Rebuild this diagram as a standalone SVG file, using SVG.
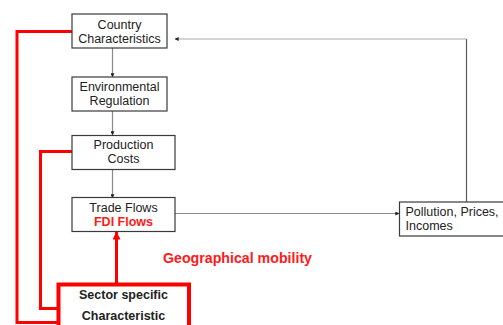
<svg xmlns="http://www.w3.org/2000/svg" width="503" height="325" viewBox="0 0 503 325">
  <style>
    .box { fill: #ffffff; stroke: #3a3a3a; stroke-width: 1.2; }
    .lbl { font-family: "Liberation Sans", Arial, sans-serif; font-size: 12.5px; fill: #222222; text-anchor: middle; }
    .lft { text-anchor: start; }
    .red { fill: #ff1a1a; font-weight: bold; }
    .bold { font-weight: bold; }
    .conn { fill: none; stroke: #8a8a8a; stroke-width: 1.2; }
    .redline { fill: none; stroke: #ff0000; stroke-width: 3; }
  </style>
  <defs>
    <marker id="arr" viewBox="0 0 6 6" refX="5.5" refY="3" markerWidth="4" markerHeight="4" orient="auto" markerUnits="userSpaceOnUse">
      <path d="M0,0 L6,3 L0,6 Z" fill="#222222"/>
    </marker>
    <marker id="arrRed" viewBox="0 0 8 8" refX="7.5" refY="4" markerWidth="8" markerHeight="8" orient="auto" markerUnits="userSpaceOnUse">
      <path d="M0,0 L8,4 L0,8 Z" fill="#ff0000"/>
    </marker>
  </defs>

  <!-- connectors -->
  <g id="connectors">
    <line class="conn" x1="112.5" y1="48" x2="112.5" y2="77" marker-end="url(#arr)"/>
    <line class="conn" x1="112.5" y1="111" x2="112.5" y2="135" marker-end="url(#arr)"/>
    <line class="conn" x1="112.5" y1="169" x2="112.5" y2="198" marker-end="url(#arr)"/>
    <line class="conn" x1="175" y1="213.5" x2="399" y2="213.5" marker-end="url(#arr)"/>
    <!-- feedback loop: darker upright, lighter top run -->
    <line class="conn" x1="466.5" y1="202" x2="466.5" y2="39" style="stroke:#5a5a5a"/>
    <line class="conn" x1="466.5" y1="39" x2="175" y2="39" style="stroke:#a8a8a8" marker-end="url(#arr)"/>
    <polyline class="redline" points="72,31.5 17,31.5 17,322.5 58,322.5"/>
    <polyline class="redline" points="72,151.5 40.5,151.5 40.5,308.5 58,308.5"/>
    <line class="redline" x1="116.5" y1="284" x2="116.5" y2="232" marker-end="url(#arrRed)"/>
  </g>

  <g id="country">
    <rect class="box" x="72" y="14" width="95" height="34"/>
    <text class="lbl" x="119.5" y="28.5">Country</text>
    <text class="lbl" x="119.5" y="42.5">Characteristics</text>
  </g>

  <g id="regulation">
    <rect class="box" x="72" y="77" width="95" height="34"/>
    <text class="lbl" x="119.5" y="90.5">Environmental</text>
    <text class="lbl" x="119.5" y="104.5">Regulation</text>
  </g>

  <g id="costs">
    <rect class="box" x="72" y="135.5" width="103" height="34"/>
    <text class="lbl" x="123.5" y="149">Production</text>
    <text class="lbl" x="123.5" y="162.5">Costs</text>
  </g>

  <g id="flows">
    <rect class="box" x="72" y="197.5" width="103" height="34"/>
    <text class="lbl" x="123.5" y="212">Trade Flows</text>
    <text class="lbl red" x="123.5" y="225.5">FDI Flows</text>
  </g>

  <g id="outcomes">
    <rect class="box" x="399.5" y="202" width="106" height="34"/>
    <text class="lbl lft" x="405.5" y="216">Pollution, Prices,</text>
    <text class="lbl lft" x="405.5" y="229.5">Incomes</text>
  </g>

  <g id="sector">
    <rect x="58.5" y="284.5" width="130.5" height="50" fill="#ffffff" stroke="#ff0000" stroke-width="4"/>
    <text class="lbl bold" x="123.5" y="299">Sector specific</text>
    <text class="lbl bold" x="123.5" y="320">Characteristic</text>
  </g>

  <g id="mobility">
    <text class="lbl red lft" x="163" y="262.5" style="font-size:14.2px">Geographical mobility</text>
  </g>
</svg>
